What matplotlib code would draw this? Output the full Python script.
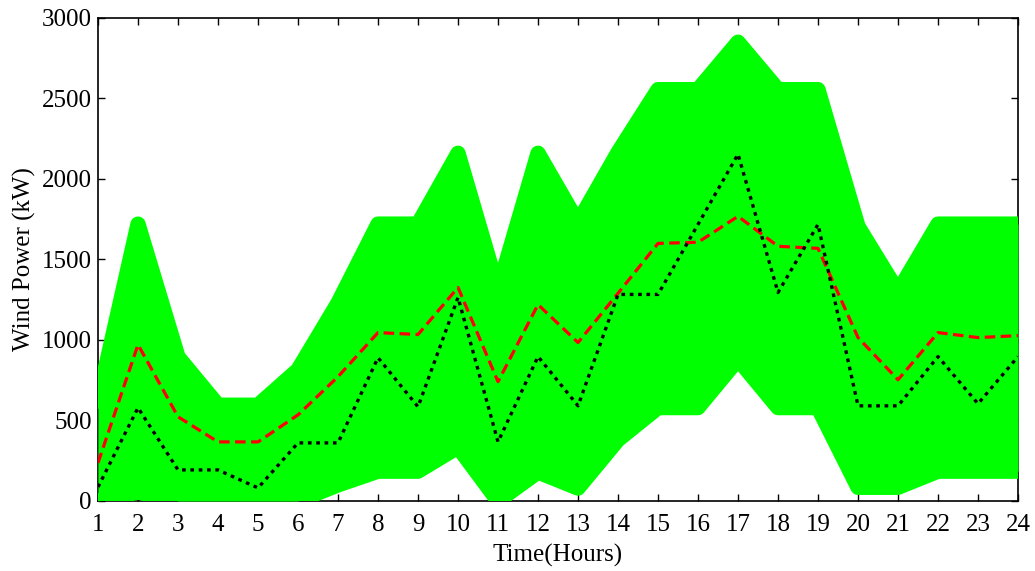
import matplotlib.pyplot as plt
import numpy as np

hours = np.arange(1, 25)

# scenario band (max / min of the generated wind power scenarios), kW
scen_max = [620, 1720, 895, 595, 595, 815, 1230, 1720, 1720, 2160, 1310, 2160,
            1730, 2165, 2555, 2555, 2850, 2555, 2555, 1705, 1300, 1720, 1720, 1720]
scen_min = [0, 55, 0, 0, 0, 0, 100, 185, 185, 335, 0, 180,
            80, 380, 580, 580, 880, 580, 580, 85, 85, 185, 185, 185]

# expected value of the scenarios and the actual wind power, kW
expected = [237, 971, 523, 367, 367, 535, 772, 1046, 1034, 1326, 741, 1220,
            984, 1290, 1600, 1607, 1768, 1582, 1569, 1015, 753, 1046, 1015, 1027]
actual = [87, 579, 193, 193, 81, 361, 361, 890, 585, 1264, 367, 897,
          591, 1283, 1283, 1718, 2154, 1295, 1718, 591, 591, 897, 604, 897]

plt.rcParams['font.family'] = ['Liberation Serif', 'DejaVu Serif']

fig = plt.figure(figsize=(10.35, 5.71), dpi=100)
ax = fig.add_axes([0.0947, 0.1226, 0.8889, 0.8459])

green = '#00ff00'
ax.fill_between(hours, scen_min, scen_max, color=green, lw=0, zorder=3)
for band in (scen_max, scen_min):
    ax.plot(hours, band, color=green, linewidth=11, solid_joinstyle='round',
            solid_capstyle='round', zorder=3)

ax.plot(hours, expected, color='red', linewidth=2.3, linestyle=(0, (3.3, 1.7)), zorder=4)
ax.plot(hours, actual, color='black', linewidth=2.4, linestyle=(0, (1.1, 1.4)),
        dash_capstyle='butt', zorder=4)

ax.set_xlim(1, 24)
ax.set_ylim(0, 3000)
ax.set_xticks(hours)
ax.set_yticks(np.arange(0, 3001, 500))
ax.tick_params(direction='in', length=5, width=1, top=True, right=True, labelsize=18)
ax.tick_params(axis='x', pad=9.5)
ax.tick_params(axis='y', pad=4.5)
for s in ax.spines.values():
    s.set_linewidth(1.2)

ax.set_xlabel('Time(Hours)', fontsize=18, labelpad=5.5)
ax.set_ylabel('Wind Power (kW)', fontsize=18, labelpad=4)

fig.savefig('out.png', dpi=100)
